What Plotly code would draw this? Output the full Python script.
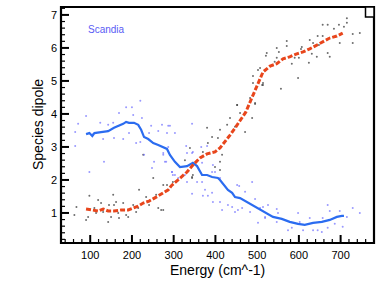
import plotly.graph_objects as go

# Blue (Scandia) smoothed line
blue_x = [90, 98, 105, 110, 126, 143, 157, 169, 179, 186, 193, 205, 215, 222, 229, 239, 251, 263, 275, 284, 291,
          303, 315, 332, 346, 356, 368, 380, 392, 406, 411, 423, 430, 440, 447, 459, 476, 488, 507, 519,
          538, 559, 578, 598, 614, 634, 655, 674, 691, 703, 708]
blue_y = [3.39, 3.42, 3.33, 3.42, 3.45, 3.48, 3.58, 3.64, 3.70, 3.76, 3.73, 3.73, 3.67, 3.52, 3.30, 3.24, 3.12, 3.06, 3.00, 2.94, 2.76,
          2.55, 2.39, 2.42, 2.52, 2.42, 2.15, 2.15, 2.09, 2.06, 2.00, 1.79, 1.70, 1.61, 1.48, 1.45, 1.33, 1.24, 1.12, 1.01,
          0.88, 0.82, 0.73, 0.67, 0.64, 0.70, 0.73, 0.79, 0.88, 0.91, 0.91]

# Orange smoothed line
orange_x = [90, 107, 119, 131, 143, 157, 174, 191, 203, 215, 227, 241, 258, 270, 287, 294, 315, 332, 346, 363, 380,
            399, 411, 423, 435, 449, 464, 473, 483, 492, 502, 514, 531, 547, 562, 578, 595, 610, 626, 643,
            657, 674, 691, 705]
orange_y = [1.12, 1.09, 1.06, 1.12, 1.06, 1.06, 1.09, 1.09, 1.15, 1.21, 1.30, 1.36, 1.48, 1.58, 1.70, 1.82, 2.06, 2.24, 2.45, 2.67, 2.79,
            2.85, 2.97, 3.15, 3.36, 3.61, 3.88, 4.06, 4.36, 4.64, 4.94, 5.27, 5.45, 5.52, 5.67, 5.73, 5.82, 5.88, 5.97, 6.09,
            6.18, 6.30, 6.36, 6.45]

# Raw blue scatter
blue_dx = [90, 71, 64, 64, 98, 133, 131, 143, 155, 157, 169, 186, 200, 203, 193, 179, 220, 224, 220, 246, 241, 263, 272,
           287, 275, 248, 229, 253, 282, 287, 210, 124, 107, 291, 284, 303, 344, 275, 279, 296, 332, 344, 346, 368, 298,
           394, 392, 327, 330, 380, 366, 296, 303, 311, 332, 344, 356, 368, 399, 411, 452, 457, 375, 392, 370, 394, 411,
           382, 430, 416, 440, 447, 464, 471, 488, 495, 483, 507, 526, 502, 519, 454, 514, 519, 547, 550, 547, 574, 583,
           598, 602, 610, 626, 634, 645, 657, 669, 669, 674, 686, 698, 705, 715, 729, 746, 655]
blue_dy = [3.94, 3.70, 3.45, 3.03, 2.24, 2.55, 3.24, 3.67, 3.73, 3.27, 4.03, 4.20, 4.20, 3.97, 3.42, 3.24, 4.40, 3.88, 3.15, 3.64, 3.42, 3.48, 3.67,
           3.64, 2.76, 2.36, 2.76, 2.55, 2.55, 3.00, 3.12, 3.73, 3.39, 3.64, 3.42, 3.42, 3.70, 2.82, 2.55, 2.24, 2.82, 2.82, 2.85, 2.52, 2.15,
           2.45, 2.24, 2.15, 3.03, 3.03, 3.00, 2.24, 2.15, 2.06, 1.94, 1.58, 1.94, 1.94, 2.24, 2.06, 1.85, 1.82, 1.70, 1.61, 1.52, 1.33, 1.33,
           1.52, 1.24, 1.09, 1.18, 1.03, 1.15, 1.64, 1.94, 1.42, 1.03, 1.15, 1.24, 0.70, 0.85, 1.09, 1.18, 0.88, 1.12, 1.00, 0.73, 0.48, 0.55,
           1.00, 0.73, 0.48, 0.85, 0.48, 0.48, 0.85, 0.55, 1.24, 1.06, 0.67, 1.06, 0.58, 0.88, 1.15, 1.00, 0.42]

# Raw dark scatter
dark_dx = [62, 67, 90, 95, 98, 110, 114, 119, 126, 131, 143, 145, 150, 155, 157, 162, 167, 169, 179, 186, 191, 203, 210,
           215, 217, 227, 234, 241, 251, 258, 263, 270, 275, 275, 284, 287, 298, 327, 339, 344, 344, 346, 346, 370, 380,
           382, 392, 399, 406, 411, 411, 411, 416, 428, 435, 447, 452, 452, 459, 471, 483, 488, 490, 490, 495, 495, 502,
           507, 512, 514, 514, 521, 523, 542, 547, 547, 552, 557, 571, 571, 583, 590, 598, 600, 605, 607, 624, 626, 631,
           634, 643, 645, 648, 657, 657, 669, 669, 674, 684, 696, 698, 708, 715, 715, 729, 729, 746]
dark_dy = [0.94, 1.18, 0.79, 0.88, 1.52, 1.15, 1.00, 1.39, 1.30, 1.03, 0.73, 1.24, 0.88, 1.55, 1.24, 1.33, 1.00, 0.85, 1.30, 0.94, 0.88, 1.24, 1.03,
           1.15, 1.70, 2.76, 1.48, 1.24, 2.06, 1.55, 1.15, 1.09, 1.85, 1.09, 1.85, 1.70, 1.94, 2.60, 2.97, 2.06, 2.09, 2.45, 2.15, 2.85, 3.58,
           3.12, 3.30, 2.39, 3.27, 3.52, 2.55, 2.30, 2.76, 3.67, 3.88, 3.61, 4.27, 4.27, 4.03, 3.45, 4.48, 3.88, 5.15, 4.94, 4.33, 4.30, 5.33,
           5.39, 4.88, 4.94, 4.88, 5.76, 5.85, 5.58, 6.00, 5.70, 5.88, 4.76, 6.21, 6.06, 5.52, 5.70, 5.09, 5.70, 5.97, 6.03, 5.55, 6.24, 5.82,
           6.15, 5.73, 6.36, 6.09, 6.36, 6.70, 5.85, 6.70, 5.73, 6.58, 6.70, 6.15, 6.64, 6.90, 6.76, 6.42, 6.15, 6.45]

x_tickvals = [100, 200, 300, 400, 500, 600, 700]
y_tickvals = [1, 2, 3, 4, 5, 6, 7]

X_RANGE = [30, 780]
Y_RANGE = [0.09, 7.24]
x_minor = [v for v in range(40, 780, 20) if v % 100 != 0]
y_minor = [round(v * 0.2, 2) for v in range(1, 37) if v % 5 != 0]

# plot area size in px (layout below) -> data units per px for the tick marks
PLOT_W = 382 - 61 - 8
PLOT_H = 305 - 7 - 62
XU = (X_RANGE[1] - X_RANGE[0]) / PLOT_W
YU = (Y_RANGE[1] - Y_RANGE[0]) / PLOT_H


def tick_path(vals, length_px, vertical):
    xs, ys = [], []
    for v in vals:
        if vertical:
            xs += [v, v, None]
            ys += [Y_RANGE[0], Y_RANGE[0] + length_px * YU, None]
        else:
            xs += [X_RANGE[0], X_RANGE[0] + length_px * XU, None]
            ys += [v, v, None]
    return xs, ys


FONT = "Liberation Sans, Arial, sans-serif"

fig = go.Figure()
fig.add_trace(go.Scatter(x=dark_dx, y=dark_dy, mode="markers",
                         marker=dict(size=2, color="rgba(60,60,60,0.75)"), showlegend=False, hoverinfo="skip"))
fig.add_trace(go.Scatter(x=blue_dx, y=blue_dy, mode="markers",
                         marker=dict(size=2, color="rgba(110,110,255,0.7)"), showlegend=False, hoverinfo="skip"))
fig.add_trace(go.Scatter(x=blue_x, y=blue_y, mode="lines",
                         line=dict(color="#2b6cf0", width=2.2), showlegend=False))
fig.add_trace(go.Scatter(x=orange_x, y=orange_y, mode="lines",
                         line=dict(color="#e8461c", width=3, dash="5px,2px"), showlegend=False))

# inward tick marks
for vals, ln, w, vert in [(x_tickvals, 8, 2, True), (x_minor, 4, 1.2, True),
                          (y_tickvals, 8, 2, False), (y_minor, 4, 1.2, False)]:
    tx, ty = tick_path(vals, ln, vert)
    fig.add_trace(go.Scatter(x=tx, y=ty, mode="lines", line=dict(color="black", width=w),
                             showlegend=False, hoverinfo="skip", connectgaps=False))

fig.add_annotation(x=89, xref="x", y=6.55, yref="y", text="Scandia", showarrow=False,
                   font=dict(family=FONT, size=10, color="#5a5cf5"),
                   xanchor="left", yanchor="middle")

# axis titles
fig.add_annotation(x=0.5, xref="paper", y=0, yref="paper", yshift=-27, text="Energy (cm^-1)",
                   showarrow=False, font=dict(family=FONT, size=14, color="black"),
                   xanchor="center", yanchor="middle")
fig.add_annotation(x=0, xref="paper", xshift=-23, y=0.5, yref="paper", text="Species dipole",
                   showarrow=False, textangle=-90, font=dict(family=FONT, size=14, color="black"),
                   xanchor="center", yanchor="middle")

# plot frame and corner box
fig.add_shape(type="rect", xref="paper", yref="paper", x0=0, x1=1, y0=0, y1=1,
              line=dict(color="black", width=2.2), layer="above")
fig.add_shape(type="rect", xref="paper", yref="paper",
              x0=1 - 8.5 / 313, x1=1.0, y0=1 - 10 / 236, y1=1.0,
              line=dict(color="black", width=1.5), fillcolor="white", layer="above")

axis_font = dict(family=FONT, size=11, color="black")
fig.update_layout(
    xaxis=dict(range=X_RANGE, tickvals=x_tickvals, ticks="", showline=False,
               showgrid=False, zeroline=False, tickfont=axis_font, automargin=False, ticklabelstandoff=4),
    yaxis=dict(range=Y_RANGE, tickvals=y_tickvals, ticks="", showline=False,
               showgrid=False, zeroline=False, tickfont=axis_font, automargin=False, ticklabelstandoff=3),
    width=382, height=305, margin=dict(l=61, r=8, t=7, b=62),
    plot_bgcolor="white", paper_bgcolor="white")

fig.write_html("out.html", config={"displayModeBar": False},
               post_script="document.body.style.margin='0';document.body.style.padding='0';")
